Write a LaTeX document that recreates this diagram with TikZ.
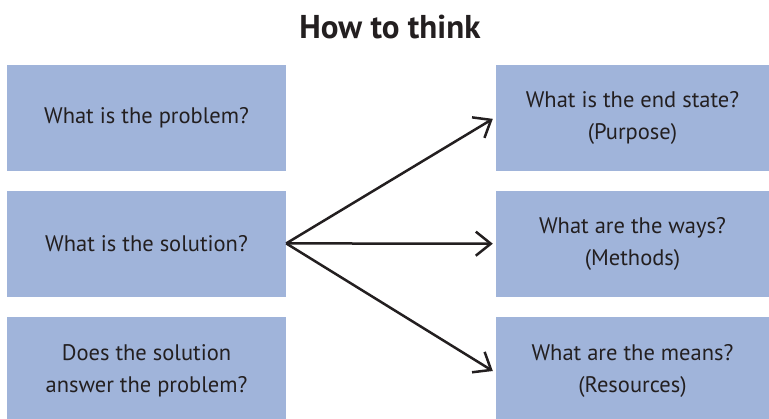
\documentclass[tikz,border=0pt]{standalone}
\usepackage{fontspec}
\setmainfont{PT Sans}
\usetikzlibrary{arrows.meta}
\definecolor{boxblue}{HTML}{A0B4DA}
\definecolor{ink}{HTML}{231F20}
\tikzset{
  qbox/.style={fill=boxblue, draw=none, minimum width=279pt, minimum height=105pt,
    inner sep=0pt, align=center, font=\fontsize{22.5}{32}\selectfont, text=ink},
  link/.style={draw=ink, line width=2.5pt, -{Straight Barb[length=15pt,width=24pt,line width=2.5pt]}}
}
\begin{document}
\begin{tikzpicture}[x=1pt,y=-1pt]
  \useasboundingbox (0,0) rectangle (769,418);
  \node[font=\fontsize{33}{36}\selectfont\bfseries, text=ink] (title) at (390,27) {How to think};
  % left column (bottom row runs past the lower page edge)
  \node[qbox, minimum height=105.7pt] (problem) at (146.5,117.85) {What is the problem?};
  \node[qbox, minimum height=106pt] (solution) at (146.5,243.7) {What is the solution?};
  \node[qbox, minimum height=107.6pt] (answer) at (146.5,370.5) {Does the solution\\answer the problem?};
  % right column
  \node[qbox, minimum width=273pt, minimum height=105.7pt] (purpose) at (632.5,117.85) {What is the end state?\\(Purpose)};
  \node[qbox, minimum width=273pt, minimum height=106pt] (methods) at (632.5,243.7) {What are the ways?\\(Methods)};
  \node[qbox, minimum width=273pt, minimum height=107.6pt] (resources) at (632.5,370.5) {What are the means?\\(Resources)};
  % connectors
  \coordinate (start) at ([yshift=0.3pt]solution.east);
  \draw[link] (start) -- ([xshift=-3pt,yshift=-1pt]purpose.west);
  \draw[link] (start) -- ([xshift=-3pt]methods.west);
  \draw[link] (start) -- ([xshift=-3pt,yshift=-0.5pt]resources.west);
\end{tikzpicture}
\end{document}
